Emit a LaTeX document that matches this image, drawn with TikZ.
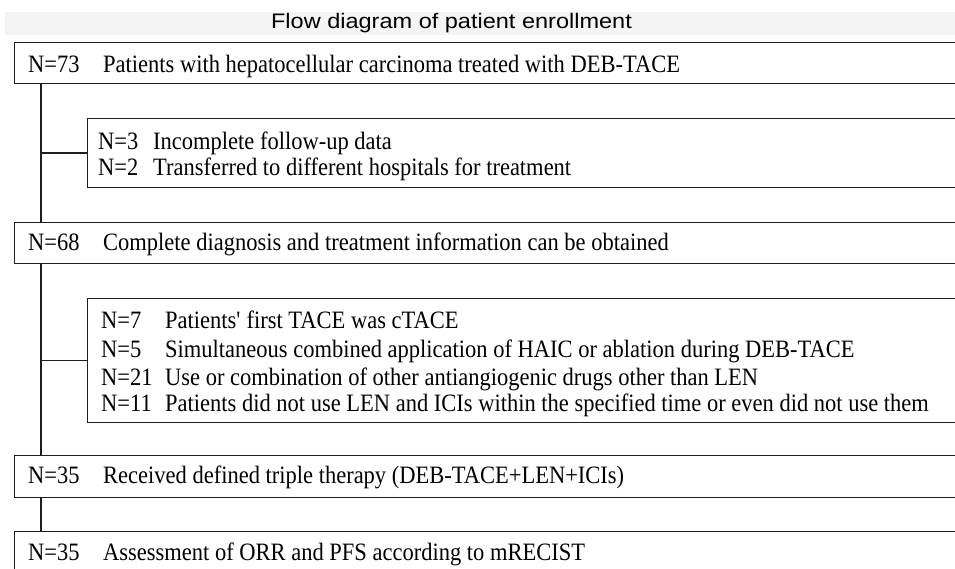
\documentclass[tikz,border=0pt]{standalone}
\usepackage{fontspec}
\setmainfont[FakeStretch=0.9]{Liberation Serif}
\newfontfamily\titlefont[FakeStretch=1.12]{Liberation Sans}
\definecolor{bandgray}{HTML}{F4F4F4}
\definecolor{linecol}{HTML}{1E1E1E}
\begin{document}
\begin{tikzpicture}[x=1pt,y=-1pt,
  frame/.style={draw=linecol,line width=1.3pt,fill=white,rectangle,inner sep=0pt,anchor=north west,minimum width=1000pt},
  txt/.style={anchor=base west,inner sep=0pt,font=\fontsize{25}{28}\selectfont},
  link/.style={draw=linecol,line width=1.3pt}]
\useasboundingbox (0,0) rectangle (955,569);
\clip (0,0) rectangle (955,569);
\fill[bandgray] (5,12) rectangle (955,35);
\node[anchor=base,inner sep=0pt,font=\titlefont\fontsize{21}{24}\selectfont] (title) at (451.5,29) {Flow diagram of patient enrollment};
% boxes
\node[frame,minimum height=41pt] (b1) at (14,42) {};
\node[frame,minimum height=69pt] (bA) at (87,118) {};
\node[frame,minimum height=41pt] (b2) at (14,222) {};
\node[frame,minimum height=124pt] (bB) at (87,298) {};
\node[frame,minimum height=42pt] (b3) at (14,455) {};
\node[frame,minimum height=60pt] (b4) at (14,531) {};
\coordinate (trunk) at (41,0);
% connectors
\draw[link] (trunk |- b1.south) -- (trunk |- b2.north);
\draw[link] (trunk |- bA.west) -- (bA.west);
\draw[link] (trunk |- b2.south) -- (trunk |- b3.north);
\draw[link] (trunk |- bB.west) -- (bB.west);
\draw[link] (trunk |- b3.south) -- (trunk |- b4.north);
% texts
\node[txt] (n1) at (28,73) {N=73};
\node[txt] (t1) at (103,73) {Patients with hepatocellular carcinoma treated with DEB-TACE};
\node[txt] (nA1) at (98,150) {N=3};
\node[txt] (tA1) at (153,150) {Incomplete follow-up data};
\node[txt] (nA2) at (98,176) {N=2};
\node[txt] (tA2) at (153,176) {Transferred to different hospitals for treatment};
\node[txt] (n2) at (28,251) {N=68};
\node[txt] (t2) at (103,251) {Complete diagnosis and treatment information can be obtained};
\node[txt] (nB1) at (101,328) {N=7};
\node[txt] (tB1) at (165,328) {Patients\textquotesingle{} first TACE was cTACE};
\node[txt] (nB2) at (101,357) {N=5};
\node[txt] (tB2) at (165,357) {Simultaneous combined application of HAIC or ablation during DEB-TACE};
\node[txt] (nB3) at (101,385) {N=21};
\node[txt] (tB3) at (165,385) {Use or combination of other antiangiogenic drugs other than LEN};
\node[txt] (nB4) at (101,411) {N=11};
\node[txt] (tB4) at (165,411) {Patients did not use LEN and ICIs within the specified time or even did not use them};
\node[txt] (n3) at (28,483) {N=35};
\node[txt] (t3) at (103,483) {Received defined triple therapy (DEB-TACE+LEN+ICIs)};
\node[txt] (n4) at (28,560) {N=35};
\node[txt] (t4) at (103,560) {Assessment of ORR and PFS according to mRECIST};
\end{tikzpicture}
\end{document}
